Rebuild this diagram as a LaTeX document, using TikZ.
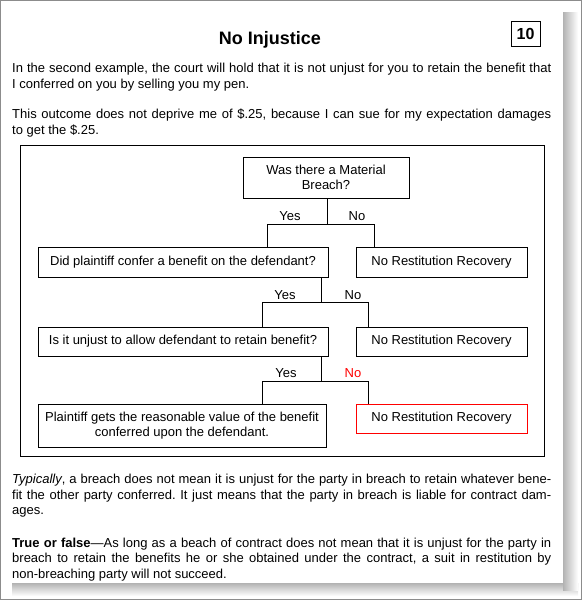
\documentclass[tikz,border=0pt]{standalone}
\usepackage{fontspec}
\setmainfont{Liberation Sans}
\hyphenpenalty=10000
\tolerance=9999
\frenchspacing
\begin{document}
\begin{tikzpicture}[x=1pt,y=-1pt,
  txt/.style={font=\fontsize{13}{15.5}\selectfont},
  para/.style={txt, anchor=north west, inner sep=0pt, text width=539pt, align=justify},
  box/.style={draw, line width=0.8pt, inner sep=0pt, align=center, txt},
  conn/.style={line width=0.8pt},
  lbl/.style={txt, inner sep=0pt}]
\useasboundingbox (0,0) rectangle (582,600);
% shadows
\shade[top color=black!30, middle color=black!50, bottom color=white] (12,583) rectangle (578,596);
\shade[left color=black!30, middle color=black!50, right color=white] (563,12) rectangle (578,590);
\fill[white] (0,0) rectangle (563,583);
% outer border
\draw[black!45, line width=1pt] (0.5,0.5) rectangle (581.5,599.5);
% title
\node[anchor=base, inner sep=0pt, font=\fontsize{18}{20}\selectfont\bfseries] (title) at (270,44.5) {No Injustice};
\node[draw, line width=0.8pt, minimum width=29pt, minimum height=25pt, inner sep=0pt, font=\fontsize{16}{18}\selectfont\bfseries] (num) at (525.5,34) {10};
% paragraphs
\node[para] (p1) at (12,61.6) {\noindent\strut In the second example, the court will hold that it is not unjust for you to retain the benefit that\linebreak I conferred on you by selling you my pen.};
\node[para] (p2) at (12,107.6) {\noindent\strut This outcome does not deprive me of \$.25, because I can sue for my expectation damages\linebreak to get the \$.25.};
\node[para] (p3) at (12,472.6) {\noindent\strut\textit{Typically}, a breach does not mean it is unjust for the party in breach to retain whatever bene-\linebreak fit the other party conferred. It just means that the party in breach is liable for contract dam-\linebreak ages.};
\node[para] (p4) at (12,536.1) {\noindent\strut\textbf{True or false}—As long as a beach of contract does not mean that it is unjust for the party in\linebreak breach to retain the benefits he or she obtained under the contract, a suit in restitution by\linebreak non-breaching party will not succeed.};
% diagram frame
\draw[line width=1pt] (20,145) rectangle (544,456);
% boxes
\node[box, minimum width=166pt, minimum height=41pt] (b1) at (326,177.5) {Was there a Material\\Breach?};
\node[box, minimum width=290pt, minimum height=30pt] (b2) at (183,262) {Did plaintiff confer a benefit on the defendant?};
\node[box, minimum width=171pt, minimum height=30pt] (n1) at (441.5,262) {No Restitution Recovery};
\node[box, minimum width=290pt, minimum height=29pt] (b3) at (183,341.5) {Is it unjust to allow defendant to retain benefit?};
\node[box, minimum width=171pt, minimum height=29pt] (n2) at (441.5,341.5) {No Restitution Recovery};
\node[box, minimum width=288pt, minimum height=43pt] (b4) at (182,425.5) {Plaintiff gets the reasonable value of the benefit\\conferred upon the defendant.};
\node[box, draw=red, minimum width=171pt, minimum height=29pt] (n3) at (441.5,418.5) {No Restitution Recovery};
% junctions
\coordinate (j1) at (327,224); \coordinate (j1l) at (267,224); \coordinate (j1r) at (374,224);
\coordinate (j2) at (321,302); \coordinate (j2l) at (262,302); \coordinate (j2r) at (368,302);
\coordinate (j3) at (321,381); \coordinate (j3l) at (262,381); \coordinate (j3r) at (368,381);
\draw[conn] (b1.south -| j1) -- (j1);
\draw[conn] (b2.north -| j1l) -- (j1l) -- (j1r) -- (n1.north -| j1r);
\draw[conn] (b2.south -| j2) -- (j2);
\draw[conn] (b3.north -| j2l) -- (j2l) -- (j2r) -- (n2.north -| j2r);
\draw[conn] (b3.south -| j3) -- (j3);
\draw[conn] (b4.north -| j3l) -- (j3l) -- (j3r) -- (n3.north -| j3r);
% labels
\node[lbl] (y1) at (290,216) {Yes};
\node[lbl] (o1) at (357,216) {No};
\node[lbl] (y2) at (285,295) {Yes};
\node[lbl] (o2) at (353,295) {No};
\node[lbl] (y3) at (286,373) {Yes};
\node[lbl, text=red] (o3) at (353,373) {No};
\end{tikzpicture}
\end{document}
